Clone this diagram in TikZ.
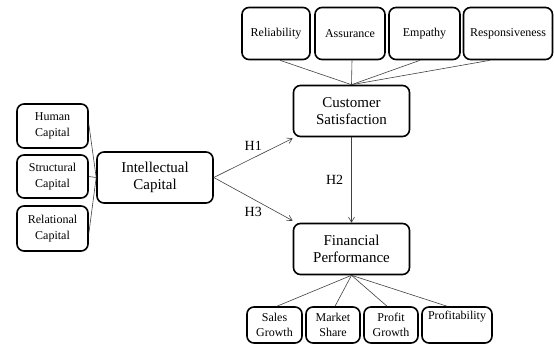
\documentclass[tikz,border=0pt]{standalone}
\usepackage{fontspec}
\setmainfont{Liberation Serif}
\usetikzlibrary{arrows.meta}
\begin{document}
\begin{tikzpicture}[x=1pt,y=-1pt,
  box/.style={draw=black, line width=1.6pt, rounded corners=7pt, align=center, inner sep=0pt},
  smallbox/.style={box, font=\fontsize{12}{15.5}\selectfont},
  bigbox/.style={box, font=\fontsize{15}{17.5}\selectfont, minimum width=116pt, minimum height=51pt},
  link/.style={draw=black!75, line width=0.6pt},
  arr/.style={link, -{Straight Barb[length=5pt,width=6pt]}},
  hlab/.style={font=\fontsize{14}{16}\selectfont, inner sep=0pt}]
\useasboundingbox (0,0) rectangle (554,349);
% top row
\node[smallbox, minimum width=68pt, minimum height=52pt] (rel) at (276,33.5) {Reliability};
\node[smallbox, minimum width=70pt, minimum height=52pt] (asu) at (350,33.5) {Assurance};
\node[smallbox, minimum width=71pt, minimum height=52pt] (emp) at (424.5,33.5) {Empathy};
\node[smallbox, minimum width=89pt, minimum height=52pt] (res) at (508,33.5) {Responsiveness};
% main boxes
\node[bigbox] (cs) at (351.5,111) {Customer\\Satisfaction};
\node[bigbox] (fp) at (351.5,249) {Financial\\Performance};
\node[bigbox] (ic) at (155,177.5) {Intellectual\\Capital};
% left boxes
\node[smallbox, minimum width=71pt, minimum height=44pt] (hum) at (52.5,126) {Human\\Capital};
\node[smallbox, minimum width=71pt, minimum height=43pt] (str) at (52.5,176.5) {Structural\\Capital};
\node[smallbox, minimum width=71pt, minimum height=45pt] (rlc) at (52.5,228.5) {Relational\\Capital};
% bottom boxes
\node[smallbox, minimum width=55pt, minimum height=36pt] (sal) at (274.5,325) {Sales\\Growth};
\node[smallbox, minimum width=54pt, minimum height=36pt] (mkt) at (333,325) {Market\\Share};
\node[smallbox, minimum width=54pt, minimum height=36pt] (pg) at (391,325) {Profit\\Growth};
\node[smallbox, minimum width=70pt, minimum height=36pt] (pro) at (457,325) {Profitability\\\strut};
% connectors top
\draw[link] ([xshift=4pt]rel.south) -- (cs.north);
\draw[link] ([xshift=2pt]asu.south) -- (cs.north);
\draw[link] ([xshift=-4.5pt]emp.south) -- (cs.north);
\draw[link] ([xshift=-18pt]res.south) -- (cs.north);
% connectors bottom
\draw[link] (fp.south) -- ([xshift=2.5pt]sal.north);
\draw[link] (fp.south) -- ([xshift=2pt]mkt.north);
\draw[link] (fp.south) -- ([xshift=-4pt]pg.north);
\draw[link] (fp.south) -- ([xshift=-10pt]pro.north);
% connectors left
\draw[link] ([yshift=2pt]hum.east) -- (ic.west);
\draw[link] (str.east) -- (ic.west);
\draw[link] ([yshift=-5pt]rlc.east) -- (ic.west);
% hypotheses
\draw[arr] (ic.east) -- node[hlab, pos=0.5, above=7pt] (h1) {H1} ([yshift=-1pt]cs.south west);
\draw[arr] (ic.east) -- node[hlab, pos=0.5, below=8pt] (h3) {H3} ([yshift=2pt]fp.north west);
\draw[arr] (cs.south) -- node[hlab, left=8pt] (h2) {H2} (fp.north);
\end{tikzpicture}
\end{document}
